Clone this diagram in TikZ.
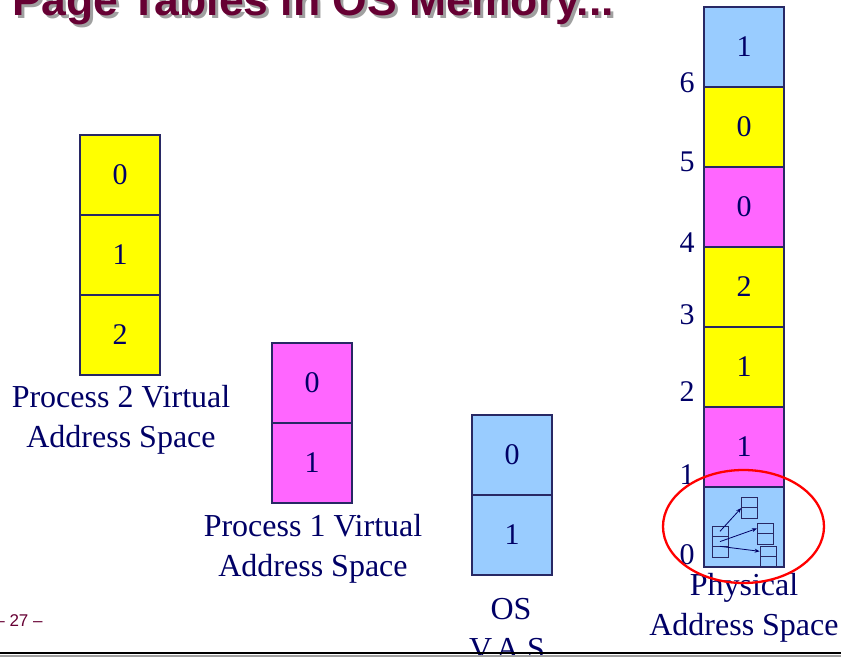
\documentclass[tikz,border=0pt]{standalone}
\usepackage{fontspec}
\setmainfont{Liberation Serif}
\newfontfamily\arialfont{Liberation Sans}
\usetikzlibrary{arrows.meta}
\definecolor{navy}{RGB}{0,0,102}
\definecolor{edge}{RGB}{40,40,100}
\definecolor{lblue}{RGB}{153,204,255}
\definecolor{lyellow}{RGB}{255,255,0}
\definecolor{lmag}{RGB}{255,102,255}
\definecolor{maroon}{RGB}{102,0,51}
\definecolor{shadowgray}{RGB}{160,160,160}
\tikzset{
  cell/.style={draw=edge, line width=1.2pt, minimum width=80pt, minimum height=80pt, inner sep=0pt, text=navy, font=\fontsize{30}{32}\selectfont},
  lbl/.style={text=navy, align=center, inner sep=0pt, font=\fontsize{32}{39.5}\selectfont},
  idx/.style={text=navy, inner sep=0pt, font=\fontsize{30}{32}\selectfont},
  mini/.style={draw=edge, line width=0.8pt, minimum width=16pt, inner sep=0pt},
  ptr/.style={draw=navy, line width=0.8pt, -{Stealth[length=5pt,width=4pt]}}
}
\begin{document}
\begin{tikzpicture}[x=1pt,y=-1pt]
\useasboundingbox (0,0) rectangle (841,658);
\clip (0,0) rectangle (841,658);
% title
\node[anchor=base west, inner sep=0pt, text=shadowgray, font=\arialfont\bfseries\fontsize{44.5}{48}\selectfont] (titleshadow) at (15,19) {Page Tables in OS Memory...};
\node[anchor=base west, inner sep=0pt, text=maroon, font=\arialfont\bfseries\fontsize{44.5}{48}\selectfont] (title) at (12,16) {Page Tables in OS Memory...};
% process 2
\node[cell, fill=lyellow] (a0) at (120,175) {0};
\node[cell, fill=lyellow] (a1) at (120,255) {1};
\node[cell, fill=lyellow] (a2) at (120,335) {2};
\node[lbl] (alab) at (121,420) {Process 2 Virtual\\Address Space};
% process 1
\node[cell, fill=lmag] (b0) at (312,383) {0};
\node[cell, fill=lmag] (b1) at (312,463) {1};
\node[lbl] (blab) at (313,549) {Process 1 Virtual\\Address Space};
% OS
\node[cell, fill=lblue] (c0) at (512,455) {0};
\node[cell, fill=lblue] (c1) at (512,535) {1};
\node[lbl] (clab) at (511,629) {OS\\V.A.S.};
% physical
\node[cell, fill=lblue] (p6) at (744,47) {1};
\node[cell, fill=lyellow] (p5) at (744,127) {0};
\node[cell, fill=lmag] (p4) at (744,207) {0};
\node[cell, fill=lyellow] (p3) at (744,287) {2};
\node[cell, fill=lyellow] (p2) at (744,367) {1};
\node[cell, fill=lmag] (p1) at (744,447) {1};
\node[cell, fill=lblue] (p0) at (744,527) {};
\node[lbl] (plab) at (744,608) {Physical\\Address Space};
% indices
\node[idx] (i6) at (687,83) {6};
\node[idx] (i5) at (687,162) {5};
\node[idx] (i4) at (687,243) {4};
\node[idx] (i3) at (687,315) {3};
\node[idx] (i2) at (687,392) {2};
\node[idx] (i1) at (687,475) {1};
\node[idx] (i0) at (687,555) {0};
% page table icon
\node[mini, minimum height=10.3pt] (t0) at (720,531.3) {};
\node[mini, minimum height=10.3pt] (t1) at (720,541.6) {};
\node[mini, minimum height=10.3pt] (t2) at (720,551.9) {};
\node[mini, minimum height=10.5pt] (u0) at (749.5,502.5) {};
\node[mini, minimum height=10.5pt] (u1) at (749.5,513) {};
\node[mini, minimum height=10.3pt] (v0) at (765.3,528.5) {};
\node[mini, minimum height=10.3pt] (v1) at (765.3,538.8) {};
\node[mini, minimum height=10.3pt] (w0) at (768,551.3) {};
\node[mini, minimum height=10.3pt] (w1) at (768,561.6) {};
\draw[ptr] (t0.center) -- (u0.south west);
\draw[ptr] (t1.center) -- (v0.west);
\draw[ptr] (t2.north) -- (w0.west);
% red ellipse
\draw[red, line width=2.3pt] (p0.center) ++(-0.5,-0.5) coordinate (ec) ellipse [x radius=80.5, y radius=56.5];
% page number
\node[text=maroon, inner sep=0pt, font=\arialfont\fontsize{17}{20}\selectfont] (pgno) at (19,621) {– 27 –};
% bottom rule
\coordinate (rl) at (0,653);
\coordinate (rr) at (841,653);
\draw[shadowgray, line width=2pt] ([yshift=-2.5pt]rl) -- ([yshift=-2.5pt]rr);
\draw[black, line width=2.2pt] (rl) -- (rr);
\fill[white] (0,656.5) rectangle (841,658);
\end{tikzpicture}
\end{document}
